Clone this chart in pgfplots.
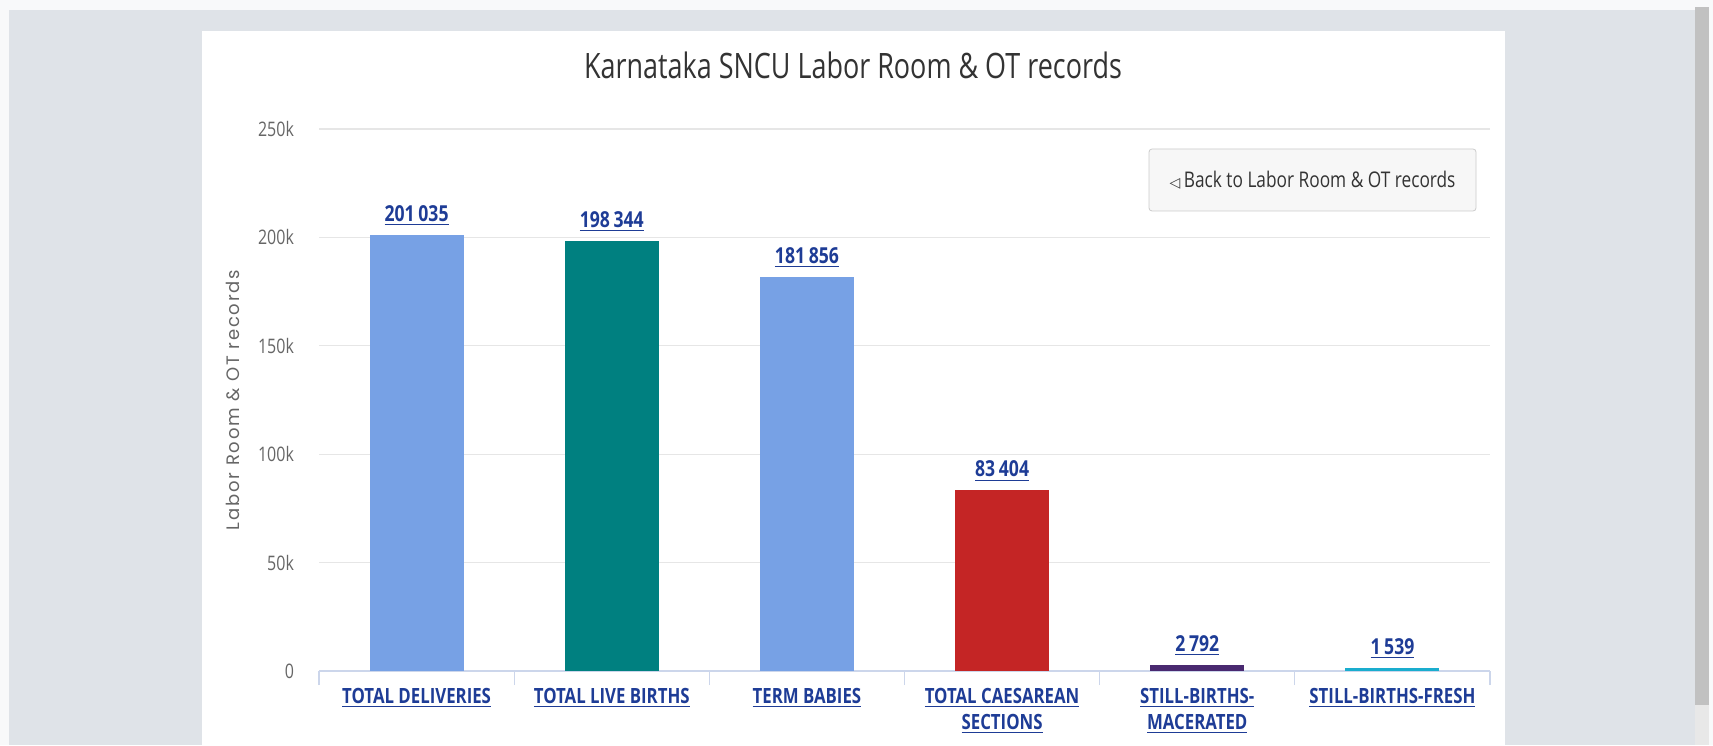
\documentclass[border=0pt]{standalone}
\usepackage{pgfplots}
\pgfplotsset{compat=1.18}
\usepackage{fontspec}
\setmainfont{Open Sans}[FakeStretch=0.8]
\newfontfamily\titlefont{Open Sans}[FakeStretch=0.77]
\newfontfamily\ylabfont{Poppins}[LetterSpace=10]
\newfontfamily\symfont{DejaVu Sans}
\definecolor{pagebg}{RGB}{223,227,232}
\definecolor{edgebg}{RGB}{248,249,250}
\definecolor{scrollbar}{RGB}{193,193,193}
\definecolor{scrolltrack}{RGB}{232,232,232}
\definecolor{titlecol}{RGB}{51,51,51}
\definecolor{tickcol}{RGB}{102,102,102}
\definecolor{gridcol}{RGB}{230,230,230}
\definecolor{axiscol}{RGB}{204,214,235}
\definecolor{linkblue}{RGB}{30,60,150}
\definecolor{cblue}{RGB}{119,161,229}
\definecolor{cteal}{RGB}{0,128,128}
\definecolor{cred}{RGB}{196,37,37}
\definecolor{cpurple}{RGB}{73,41,112}
\definecolor{ccyan}{RGB}{26,173,206}
\definecolor{btnfill}{RGB}{247,247,247}
\definecolor{btndraw}{RGB}{204,204,204}
\begin{document}
\begin{tikzpicture}
% full px -> 0.5pt ; y measured from top (745 px = 372.5pt)
\useasboundingbox (0,0) rectangle (856.5pt,372.5pt);
\fill[edgebg] (0,0) rectangle (856.5pt,372.5pt);
\fill[pagebg] (4.5pt,0) rectangle (847.5pt,367.5pt);
\fill[scrollbar] (847.5pt,20pt) rectangle (854.5pt,369pt);
\fill[scrolltrack] (847.5pt,0pt) rectangle (854.5pt,20pt);
\fill[white] (101pt,0) rectangle (752.5pt,357pt);
\node[font=\titlefont\fontsize{17.5}{20}\selectfont, text=titlecol] at (426.5pt,340pt) {Karnataka SNCU Labor Room \& OT records};
\node[rotate=90, font=\ylabfont\fontsize{9}{11}\selectfont, text=tickcol] at (116.5pt,172.5pt) {Labor Room \& OT records};
\begin{axis}[
  at={(159.5pt,37pt)}, anchor=south west,
  scale only axis, width=585.5pt, height=271pt,
  xmin=-0.5, xmax=5.5, ymin=0, ymax=250000,
  axis lines*=left,
  x axis line style={-, draw=axiscol, line width=0.8pt},
  y axis line style={draw=none},
  tick align=outside, major tick length=7pt,
  xtick={-0.5,0.5,1.5,2.5,3.5,4.5,5.5},
  xticklabels={{\underline{TOTAL DELIVERIES}},{\underline{TOTAL LIVE BIRTHS}},{\underline{TERM BABIES}},{\underline{TOTAL CAESAREAN}\\\underline{SECTIONS}},{\underline{STILL-BIRTHS-}\\\underline{MACERATED}},{\underline{STILL-BIRTHS-FRESH}},{}},
  x tick label style={align=center, font=\bfseries\fontsize{10.5}{13}\selectfont, text=linkblue, xshift=48.79pt, yshift=2pt},
  xtick style={draw=axiscol, line width=0.6pt},
  scaled y ticks=false,
  ytick={0,50000,100000,150000,200000,250000},
  yticklabels={0,50k,100k,150k,200k,250k},
  y tick label style={font=\fontsize{10}{11}\selectfont, text=tickcol, xshift=-2pt},
  ytick style={draw=none},
  ymajorgrids, xmajorgrids=false, major grid style={draw=gridcol, line width=0.6pt},
  ybar, bar width=47pt, bar shift=0pt,
  point meta=explicit symbolic,
  nodes near coords,
  every node near coord/.append style={anchor=south, yshift=1pt, font=\bfseries\fontsize{11}{13}\selectfont, text=linkblue},
  clip=false,
]
\addplot[fill=cblue, draw=none] coordinates {(0,201035) [\underline{201\,035}]};
\addplot[fill=cteal, draw=none] coordinates {(1,198344) [\underline{198\,344}]};
\addplot[fill=cblue, draw=none] coordinates {(2,181856) [\underline{181\,856}]};
\addplot[fill=cred, draw=none] coordinates {(3,83404) [\underline{83\,404}]};
\addplot[fill=cpurple, draw=none] coordinates {(4,2792) [\underline{2\,792}]};
\addplot[fill=ccyan, draw=none] coordinates {(5,1539) [\underline{1\,539}]};
\end{axis}
\draw[btndraw, fill=btnfill, rounded corners=1.5pt] (574.5pt,267pt) rectangle (738pt,298pt);
\node[font=\fontsize{10.8}{12}\selectfont, text=titlecol] at (656.25pt,282.5pt) {{\symfont\fontsize{7}{8}\selectfont ◁}\,Back to Labor Room \& OT records};
\end{tikzpicture}
\end{document}
